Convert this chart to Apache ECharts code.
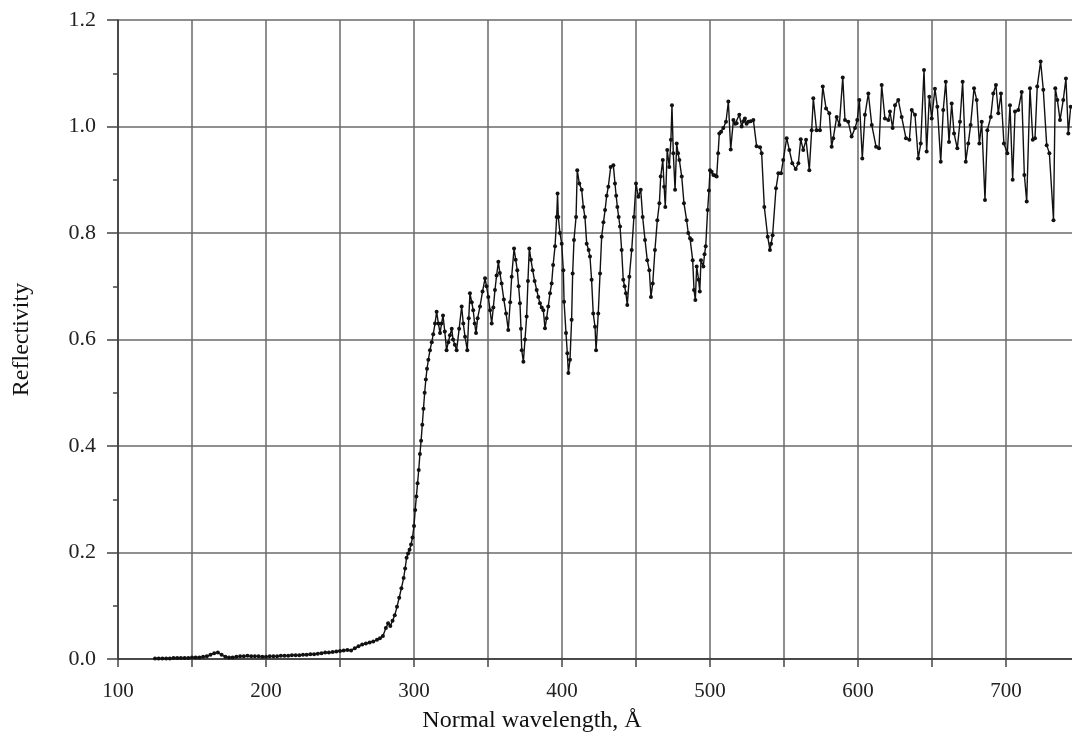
<!DOCTYPE html>
<html>
<head>
<meta charset="utf-8">
<script src="https://cdn.jsdelivr.net/npm/echarts@6/dist/echarts.min.js"></script>
<style>
html,body{margin:0;padding:0;background:#fff;overflow:hidden;width:1072px;height:738px;}
#chart{width:1080px;height:738px;}
</style>
</head>
<body>
<div id="chart"></div>
<script>
// Normal wavelength (Å)
const wavelength = [
125,127.5,130,132.5,135,137.5,140,142.5,145,147.5,150,152.5,155,157.5,160,162.5,165,167.5,170,172.5,
175,177.5,180,182.5,185,187.5,190,192.5,195,197.5,200,202.5,205,207.5,210,212.5,215,217.5,220,222.5,
225,227.5,230,232.5,235,237.5,240,242.5,245,247.5,250,252.5,255,257.5,260,262.5,265,267.5,270,272.5,
275,277,279,281,282.5,284,285.5,287,288.5,290,291.5,293,294,295,296,297,298,299,300,300.8,
301.6,302.4,303.2,304,304.8,305.6,306.4,307.2,308,308.8,309.7,310.8,312,313,314.2,315.3,316.5,317.6,318.6,319.6,
320.8,322,323.2,324.3,325.5,326.4,327.6,328.8,330.5,332.2,333.3,334.5,336,337,337.8,339,340,341,341.9,343,
344.6,346.3,348,349,350.2,351.4,352.5,353.6,354.7,355.8,357,358,359.2,360.7,362.2,363.7,365,366,367.6,368.7,
369.8,370.7,371.6,372.3,372.8,373.9,375,376.1,377,377.9,379,380.2,381.5,382.9,384,385.1,386.3,387.4,388.5,389.6,
390.7,391.9,393,394,395.3,396.4,397,397.5,398.6,399.8,400.9,401.4,402.7,403.6,404.3,405.4,406.5,407.2,408.1,409.5,
410.3,411.7,413.3,414.4,415.5,416.7,418,418.9,420,421.1,422.3,423,424.5,425.7,426.8,428,429.1,430.2,431.3,432.9,
434.7,435.8,436.6,437.4,438.3,439.2,440.3,441.4,442.3,443.2,444.1,445.5,447.1,448.6,450,451.6,453.2,454.5,456.1,457.6,
459,460.1,461.3,462.8,464.4,465.8,466.7,468.1,469,469.8,471.1,472.5,473.6,474.3,475.2,476.4,477.5,478.4,479.3,480.9,
482.4,484.2,485.3,486.5,487.6,488.3,489.2,490.1,491,492.3,493.1,493.9,495.5,496.3,497.1,498.4,499.3,500,501.1,502.3,
503.4,504.5,505.5,506.3,507.5,509,510.8,512.4,514,515.8,517,518,519.8,521.4,522.5,523.6,524.7,525.9,527.5,529.3,
531.5,533.8,534.9,536.7,539,540.5,541.3,542.3,544.6,546.2,548,549.5,551.8,553.6,555.6,557.9,559.7,561.3,563,564.9,
567.1,568.7,569.8,572,574.3,576.2,578.4,580.6,582.2,583.3,585.6,587.4,589.7,591.2,593.4,595.7,598,599.5,600.9,602.9,
604.7,607,609.3,612.2,614.2,616,618.2,620.5,621.6,623.4,625,627.2,629.5,632.4,634.7,636.3,638.5,640.7,642.4,644.6,
646.4,648.2,649.8,652,653.6,655.9,657.6,659.3,661.5,663.3,664.9,667.1,668.9,670.7,672.8,674.5,676.1,678.4,680.2,682,
683.6,685.8,687.4,689.7,691.4,693.2,694.8,696.6,698.6,700.9,702.7,704.5,706.1,708.3,710.6,712.4,714,716.2,718.1,719.6,
721.1,723.4,725.2,727.5,729.3,732.1,733.3,734.7,736.5,738.7,740.5,742.1,743.7
];
// Reflectivity
const reflectivity = [
0.001,0.001,0.001,0.001,0.001,0.002,0.002,0.002,0.002,0.002,0.003,0.003,0.003,0.004,0.005,0.008,0.011,0.012,0.008,0.004,
0.003,0.003,0.004,0.005,0.005,0.006,0.005,0.005,0.005,0.004,0.004,0.005,0.005,0.005,0.006,0.006,0.006,0.007,0.007,0.007,
0.008,0.008,0.009,0.009,0.010,0.011,0.012,0.012,0.013,0.014,0.015,0.016,0.017,0.016,0.020,0.024,0.027,0.029,0.031,0.033,
0.036,0.039,0.043,0.058,0.067,0.062,0.072,0.082,0.098,0.115,0.133,0.152,0.170,0.190,0.198,0.205,0.215,0.228,0.250,0.280,
0.305,0.330,0.355,0.385,0.410,0.440,0.470,0.500,0.525,0.545,0.562,0.580,0.595,0.610,0.630,0.652,0.630,0.612,0.630,0.645,
0.615,0.580,0.595,0.608,0.620,0.600,0.590,0.580,0.620,0.662,0.630,0.605,0.580,0.640,0.687,0.670,0.655,0.630,0.612,0.640,
0.662,0.690,0.715,0.700,0.680,0.655,0.630,0.660,0.693,0.720,0.746,0.725,0.705,0.675,0.649,0.618,0.670,0.718,0.771,0.750,
0.730,0.700,0.668,0.620,0.580,0.558,0.600,0.643,0.710,0.771,0.750,0.730,0.710,0.693,0.680,0.668,0.660,0.655,0.621,0.640,
0.662,0.687,0.705,0.740,0.775,0.830,0.874,0.830,0.800,0.780,0.730,0.671,0.612,0.574,0.537,0.562,0.637,0.724,0.787,0.830,
0.918,0.893,0.881,0.849,0.830,0.780,0.768,0.756,0.712,0.649,0.624,0.580,0.649,0.724,0.793,0.820,0.843,0.870,0.887,0.924,
0.927,0.893,0.870,0.849,0.830,0.812,0.768,0.712,0.700,0.687,0.665,0.718,0.768,0.830,0.893,0.868,0.881,0.830,0.787,0.749,
0.730,0.680,0.705,0.768,0.824,0.856,0.906,0.937,0.887,0.849,0.956,0.924,0.975,1.040,0.950,0.881,0.968,0.950,0.937,0.906,
0.856,0.824,0.800,0.790,0.787,0.749,0.693,0.674,0.737,0.712,0.690,0.749,0.737,0.760,0.775,0.843,0.880,0.918,0.915,0.909,
0.908,0.906,0.950,0.987,0.990,0.997,1.009,1.047,0.957,1.012,1.005,1.006,1.022,1.000,1.010,1.015,1.005,1.009,1.010,1.012,
0.963,0.961,0.950,0.849,0.793,0.768,0.780,0.796,0.884,0.912,0.912,0.937,0.978,0.956,0.931,0.920,0.931,0.976,0.956,0.975,
0.918,0.993,1.053,0.993,0.993,1.075,1.034,1.025,0.962,0.978,1.018,1.003,1.092,1.012,1.009,0.981,0.997,1.012,1.050,0.940,
1.022,1.062,1.003,0.962,0.959,1.078,1.015,1.012,1.028,0.997,1.040,1.050,1.018,0.978,0.975,1.031,1.022,0.940,0.968,1.106,
0.953,1.056,1.015,1.071,1.037,0.934,1.031,1.084,0.971,1.043,0.987,0.959,1.009,1.084,0.934,0.968,1.003,1.072,1.050,0.968,
1.009,0.862,0.993,1.018,1.062,1.078,1.025,1.062,0.968,0.950,1.040,0.900,1.028,1.031,1.065,0.909,0.859,1.072,0.975,0.978,
1.075,1.122,1.069,0.965,0.950,0.824,1.072,1.050,1.012,1.050,1.090,0.987,1.037
];
const xTicks = [100,200,300,400,500,600,700];
const yTicks = [0.0,0.2,0.4,0.6,0.8,1.0,1.2];

const pts = wavelength.map((w,i)=>[w,reflectivity[i]]);
const chart = echarts.init(document.getElementById('chart'), null, {renderer:'canvas'});
const serif = '"Liberation Serif", "Times New Roman", serif';
chart.setOption({
  backgroundColor:'#ffffff',
  animation:false,
  grid:{left:118,right:0,top:20,bottom:79,containLabel:false},
  xAxis:{
    type:'value',min:100,max:750,interval:50,
    name:'Normal wavelength, Å',nameLocation:'middle',nameGap:50,
    nameTextStyle:{fontFamily:serif,fontSize:24,color:'#111',padding:[0,134,0,0]},
    axisLine:{show:true,lineStyle:{color:'#333',width:1.5}},
    axisTick:{show:true,length:8,lineStyle:{color:'#444',width:1.5}},
    axisLabel:{show:true,margin:22,fontFamily:serif,fontSize:21,color:'#222',showMaxLabel:false,
      formatter:v=>xTicks.includes(v)?String(v):''},
    splitLine:{show:true,lineStyle:{color:'#6a6a6a',width:1.5}}
  },
  yAxis:{
    type:'value',min:0,max:1.2,interval:0.2,
    name:'Reflectivity',nameLocation:'middle',nameGap:84,
    nameTextStyle:{fontFamily:serif,fontSize:24,color:'#111'},
    axisLine:{show:true,lineStyle:{color:'#333',width:1.5}},
    axisTick:{show:true,length:11,lineStyle:{color:'#444',width:1.5}},
    minorTick:{show:true,splitNumber:2,length:5,lineStyle:{color:'#444',width:1.5}},
    axisLabel:{show:true,margin:22,fontFamily:serif,fontSize:22,color:'#222',
      formatter:v=>{const t=yTicks.find(a=>Math.abs(a-v)<1e-6);return t===undefined?'':t.toFixed(1);}},
    splitLine:{show:true,lineStyle:{color:'#6a6a6a',width:1.5}}
  },
  series:[{
    type:'line',data:pts,
    showSymbol:true,showAllSymbol:true,symbol:'circle',symbolSize:4,
    lineStyle:{color:'#111',width:1.4},
    itemStyle:{color:'#111'},
    clip:true
  }]
});
</script>
</body>
</html>
